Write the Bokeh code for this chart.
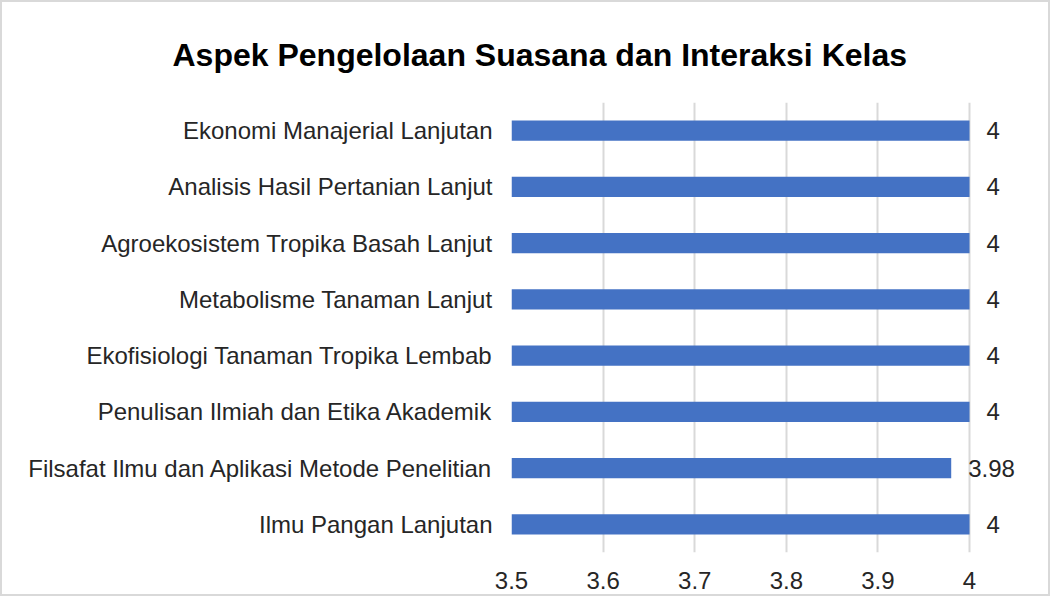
from bokeh.plotting import figure
from bokeh.models import FixedTicker, Title, ColumnDataSource
from bokeh.core.properties import value
from bokeh.embed import file_html
from bokeh.resources import INLINE

courses = [
    "Ekonomi Manajerial Lanjutan",
    "Analisis Hasil Pertanian Lanjut",
    "Agroekosistem Tropika Basah Lanjut",
    "Metabolisme Tanaman Lanjut",
    "Ekofisiologi Tanaman Tropika Lembab",
    "Penulisan Ilmiah dan Etika Akademik",
    "Filsafat Ilmu dan Aplikasi Metode Penelitian",
    "Ilmu Pangan Lanjutan",
]
scores = [4, 4, 4, 4, 4, 4, 3.98, 4]
score_labels = ["4", "4", "4", "4", "4", "4", "3.98", "4"]
x_ticks = [3.5, 3.6, 3.7, 3.8, 3.9, 4.0]

FONT = "Liberation Sans"

src = ColumnDataSource(dict(course=courses, score=scores, label=score_labels,
                            base=[3.5] * len(scores)))

p = figure(
    y_range=list(reversed(courses)),
    x_range=(3.5, 4.06),
    width=1050, height=596,
    output_backend="svg", toolbar_location=None,
    min_border_left=509, min_border_right=28,
    min_border_top=100, min_border_bottom=46,
    styles={"border": "2px solid #d9d9d9"},
)
p.title = None
t = Title(text="Aspek Pengelolaan Suasana dan Interaksi Kelas", align="left",
          offset=-339, standoff=60, text_font=FONT, text_font_size="32px",
          text_font_style="bold", text_color="#000000")
p.add_layout(t, "above")

p.hbar(y="course", left="base", right="score", height=0.36, source=src,
       color="#4472C4", line_color=None)
p.text(x="score", y="course", text="label", source=src, x_offset=17,
       text_align="left", text_baseline="middle", text_font=value(FONT),
       text_font_size="24px", text_color="#262626")

p.outline_line_color = None
p.background_fill_color = "white"
p.border_fill_color = "white"

p.xgrid.ticker = FixedTicker(ticks=x_ticks)
p.xgrid.grid_line_color = "#d9d9d9"
p.xgrid.grid_line_width = 2
p.ygrid.grid_line_color = None

p.xaxis.ticker = FixedTicker(ticks=x_ticks)
p.xaxis.major_label_overrides = {3.5: "3.5", 3.6: "3.6", 3.7: "3.7", 3.8: "3.8", 3.9: "3.9", 4.0: "4"}
p.xaxis.axis_line_color = None
p.xaxis.major_tick_line_color = None
p.xaxis.minor_tick_line_color = None
p.xaxis.major_label_standoff = 13
p.xaxis.major_label_text_font = FONT
p.xaxis.major_label_text_font_size = "24px"
p.xaxis.major_label_text_color = "#262626"

p.yaxis.axis_line_color = None
p.yaxis.major_tick_line_color = None
p.yaxis.minor_tick_line_color = None
p.yaxis.major_label_standoff = 13
p.yaxis.major_label_text_font = FONT
p.yaxis.major_label_text_font_size = "24px"
p.yaxis.major_label_text_color = "#262626"

open("out.html", "w").write(file_html(p, INLINE))
